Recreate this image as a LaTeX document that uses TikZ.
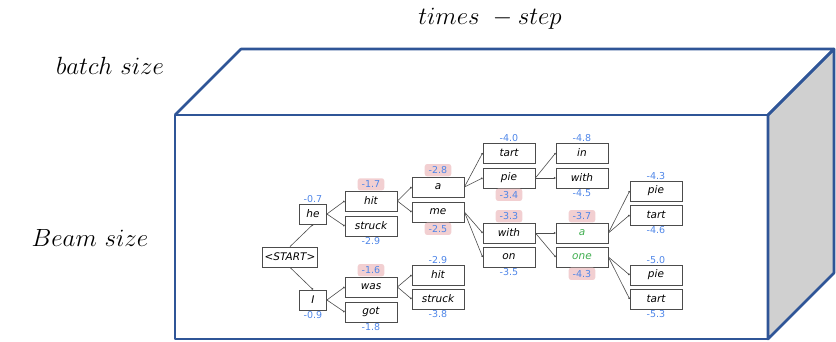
\documentclass[tikz,border=0pt]{standalone}
\usepackage{amsmath}
\usepackage{fontspec}
\usepackage{tikz}
\usepackage{xcolor}
\usetikzlibrary{arrows.meta,positioning,calc}
\newfontfamily\treefont{DejaVu Sans}

\definecolor{cubeblue}{HTML}{2F5597}
\definecolor{sidegray}{HTML}{D0D0D0}
\definecolor{scoreblue}{HTML}{4F86E8}
\definecolor{keepred}{HTML}{F2CFD1}
\definecolor{wordgreen}{HTML}{3FAE4F}

\tikzset{
    word/.style={draw=black!70, fill=white, line width=0.8pt, minimum width=52pt,
        minimum height=20pt, inner sep=1pt, font=\treefont\itshape\fontsize{10.5}{12}\selectfont},
    short/.style={word, minimum width=27pt},
    score/.style={text=scoreblue, inner sep=1.2pt, font=\treefont\fontsize{9.5}{10}\selectfont},
    kept/.style={score, fill=keepred, rounded corners=2.5pt, inner xsep=4pt, inner ysep=2.6pt},
    link/.style={draw=black!70, line width=0.6pt, -{Circle[length=1.8pt]}},
    axis/.style={font=\fontsize{26}{30}\selectfont}
}

\begin{document}
\begin{tikzpicture}[x=1pt, y=-1pt]
    \useasboundingbox (0,0) rectangle (836,342);

    % Cube
    \filldraw[fill=sidegray, draw=cubeblue, line width=2.6pt, line join=round]
        (768,115) -- (834,49) -- (834,273) -- (768,339) -- cycle;
    \draw[cubeblue, line width=2.6pt, line join=round]
        (175,115) -- (241,49) -- (834,49) -- (768,115);
    \draw[cubeblue, line width=2.6pt, line join=round] (175,115) rectangle (768,339);

    % Axis labels
    \node[axis] (timestep) at (490,19) {$times\ -step$};
    \node[axis] (batch) at (110,66) {$batch\ size$};
    \node[axis] (beam) at (90,238) {$Beam\ size$};

    % Beam search tree
    \node[word, minimum width=55pt] (start) at (290,257) {<START>};
    \node[short, label={[score]above:-0.7}] (he) at (313,214) {he};
    \node[short, label={[score]below:-0.9}] (I) at (313,300) {I};

    \node[word, label={[kept]above:-1.7}] (hit) at (371,201) {hit};
    \node[word, label={[score]below:-2.9}] (struck) at (371,226) {struck};
    \node[word, label={[kept]above:-1.6}] (was) at (371,287) {was};
    \node[word, label={[score]below:-1.8}] (got) at (371,312) {got};

    \node[word, label={[kept]above:-2.8}] (a) at (438,187) {a};
    \node[word, label={[kept]below:-2.5}] (me) at (438,212) {me};
    \node[word, label={[score]above:-2.9}] (hitB) at (438,275) {hit};
    \node[word, label={[score]below:-3.8}] (struckB) at (438,299) {struck};

    \node[word, label={[score]above:-4.0}] (tart) at (509,153) {tart};
    \node[word, label={[kept]below:-3.4}] (pie) at (509,178) {pie};
    \node[word, label={[kept]above:-3.3}] (with) at (509,233) {with};
    \node[word, label={[score]below:-3.5}] (on) at (509,257) {on};

    \node[word, label={[score]above:-4.8}] (in) at (582,153) {in};
    \node[word, label={[score]below:-4.5}] (withB) at (582,178) {with};
    \node[word, text=wordgreen, label={[kept]above:-3.7}] (aB) at (582,233) {a};
    \node[word, text=wordgreen, label={[kept]below:-4.3}] (one) at (582,257) {one};

    \node[word, label={[score]above:-4.3}] (pieB) at (656,191) {pie};
    \node[word, label={[score]below:-4.6}] (tartB) at (656,215) {tart};
    \node[word, label={[score]above:-5.0}] (pieC) at (656,275) {pie};
    \node[word, label={[score]below:-5.3}] (tartC) at (656,299) {tart};

    % Connectors
    \draw[link] (start.north) -- (he.south);
    \draw[link] (start.south) -- (I.north);
    \foreach \from/\to in {he/hit, he/struck, I/was, I/got, hit/a, hit/me,
        was/hitB, was/struckB, a/tart, a/pie, me/with, me/on, pie/in, pie/withB,
        with/aB, with/one, aB/pieB, aB/tartB, one/pieC, one/tartC}
        \draw[link] (\from.east) -- (\to.west);
\end{tikzpicture}
\end{document}
